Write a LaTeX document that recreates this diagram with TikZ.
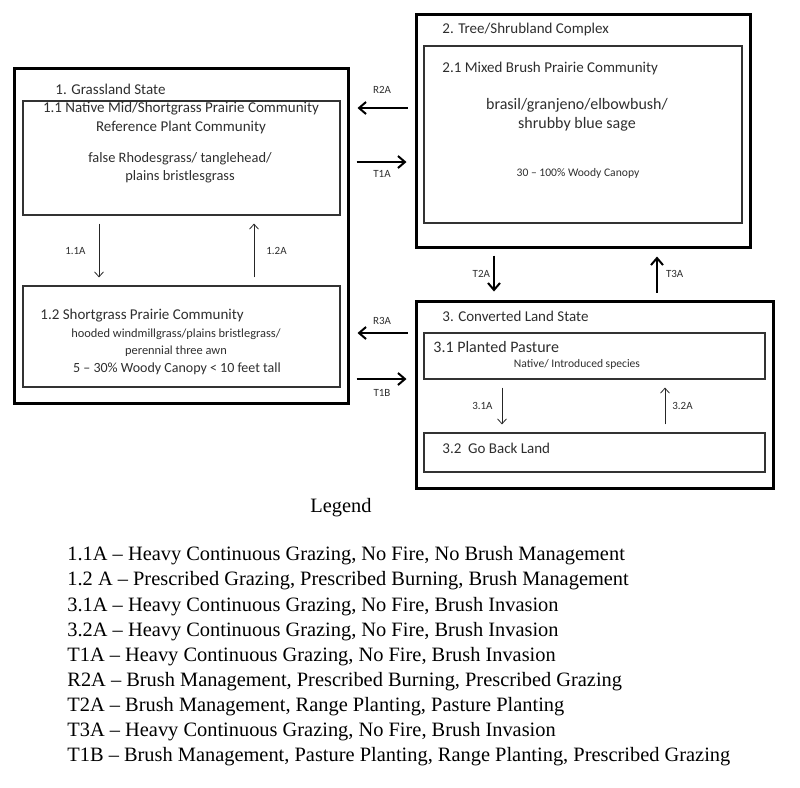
\documentclass[tikz,border=0pt]{standalone}
\usepackage{fontspec}
\setmainfont{Liberation Serif}
\newfontfamily\boxfont{Carlito}
\usepackage{tikz}
\usetikzlibrary{arrows.meta,fit}
\definecolor{boxtext}{HTML}{2E2E2E}
\tikzstyle{statebox}=[draw=black,line width=1.5pt,inner sep=0pt]
\tikzstyle{commbox}=[draw=black!80,line width=0.6pt,inner sep=0pt]
\tikzstyle{boxlabel}=[inner sep=0pt,text=boxtext,font=\boxfont\fontsize{7.5}{9.5}\selectfont]
\tikzstyle{smalllabel}=[inner sep=0pt,text=boxtext,font=\boxfont\fontsize{6.2}{8.5}\selectfont]
\tikzstyle{arrowlabel}=[inner sep=0pt,text=boxtext,font=\boxfont\fontsize{5.5}{6}\selectfont]
\tikzstyle{bigarrow}=[line width=1pt,-{Straight Barb[length=3.5pt,width=6pt]},shorten <=3.5pt,shorten >=4pt]
\tikzstyle{thinarrow}=[line width=0.4pt,draw=black!85,-{Straight Barb[length=2.5pt,width=4.5pt]},shorten <=4pt,shorten >=4pt]
\tikzstyle{legendtext}=[inner sep=0pt,anchor=west,font=\fontsize{10.2}{12}\selectfont]

\begin{document}
\begin{tikzpicture}[x=0.5pt,y=-0.5pt]
  \useasboundingbox (0,0) rectangle (800,788);

  % states and communities
  \node[statebox,fit={(14,68) (348,403)}] (state1) {};
  \node[commbox,fit={(23,101) (340,215)}] (comm11) {};
  \node[commbox,fit={(23,286) (340,387)}] (comm12) {};
  \node[statebox,fit={(416,14) (750,247)}] (state2) {};
  \node[commbox,fit={(424,46) (742,223)}] (comm21) {};
  \node[statebox,fit={(416,301) (773,488)}] (state3) {};
  \node[commbox,fit={(424,333) (765,379)}] (comm31) {};
  \node[commbox,fit={(424,433) (765,472)}] (comm32) {};

  % texts of state 1
  \node[boxlabel,anchor=west] (t1) at (55,89) {1. Grassland State};
  \node[boxlabel,align=center] (t11) at (181,118) {1.1 Native Mid/Shortgrass Prairie Community\\Reference Plant Community};
  \node[boxlabel,align=center,font=\boxfont\fontsize{7.2}{9}\selectfont] (s11) at (180,168) {false Rhodesgrass/ tanglehead/\\plains bristlesgrass};
  \node[boxlabel,anchor=west] (t12) at (40,316) {1.2 Shortgrass Prairie Community};
  \node[smalllabel,align=center] (s12) at (176,343) {hooded windmillgrass/plains bristlegrass/\\perennial three awn};
  \node[boxlabel,font=\boxfont\fontsize{7}{9}\selectfont] (c12) at (177,369) {5 – 30\% Woody Canopy {\textless} 10 feet tall};

  % texts of state 2
  \node[boxlabel,anchor=west] (t2) at (442,29) {2. Tree/Shrubland Complex};
  \node[boxlabel,anchor=west] (t21) at (442,68) {2.1 Mixed Brush Prairie Community};
  \node[boxlabel,align=center,font=\boxfont\fontsize{8}{9.5}\selectfont] (s21) at (577,115) {brasil/granjeno/elbowbush/\\shrubby blue sage};
  \node[smalllabel,font=\boxfont\fontsize{5.8}{7}\selectfont] (c21) at (578,173) {30 – 100\% Woody Canopy};

  % texts of state 3
  \node[boxlabel,anchor=west] (t3) at (442,316) {3. Converted Land State};
  \node[boxlabel,anchor=west,font=\boxfont\fontsize{8}{9.5}\selectfont] (t31) at (433,347) {3.1 Planted Pasture};
  \node[smalllabel,font=\boxfont\fontsize{5.8}{7}\selectfont] (s31) at (577,364) {Native/ Introduced species};
  \node[boxlabel,anchor=west] (t32) at (442,448) {3.2~ Go Back Land};

  % transitions between states
  \draw[bigarrow] (state2.west |- 0,108) -- node[arrowlabel,above=7pt] (lR2A) {R2A} (state1.east |- 0,108);
  \draw[bigarrow] (state1.east |- 0,162) -- node[arrowlabel,below=3.5pt] (lT1A) {T1A} (state2.west |- 0,162);
  \draw[bigarrow] (state3.west |- 0,333) -- node[arrowlabel,above=3.5pt] (lR3A) {R3A} (state1.east |- 0,333);
  \draw[bigarrow] (state1.east |- 0,379) -- node[arrowlabel,below=4.5pt] (lT1B) {T1B} (state3.west |- 0,379);
  \draw[bigarrow] (state2.south -| 494,0) -- node[arrowlabel,left=1.5pt] (lT2A) {T2A} (state3.north -| 494,0);
  \draw[bigarrow] (state3.north -| 657,0) -- node[arrowlabel,right=4pt] (lT3A) {T3A} (state2.south -| 657,0);

  % pathways within states
  \draw[thinarrow] (comm11.south -| 99,0) -- node[arrowlabel,left=6.5pt] (l11A) {1.1A} (comm12.north -| 99,0);
  \draw[thinarrow] (comm12.north -| 254,0) -- node[arrowlabel,right=6pt] (l12A) {1.2A} (comm11.south -| 254,0);
  \draw[thinarrow] (comm31.south -| 502,0) -- node[arrowlabel,left=4.5pt] (l31A) {3.1A} (comm32.north -| 502,0);
  \draw[thinarrow] (comm32.north -| 665,0) -- node[arrowlabel,right=3.5pt] (l32A) {3.2A} (comm31.south -| 665,0);

  % legend
  \node[inner sep=0pt,font=\fontsize{10.2}{12}\selectfont] (legend) at (341,508) {Legend};
  \foreach \txt [count=\i] in {{1.1A – Heavy Continuous Grazing, No Fire, No Brush Management},
      {1.2 A – Prescribed Grazing, Prescribed Burning, Brush Management},
      {3.1A – Heavy Continuous Grazing, No Fire, Brush Invasion},
      {3.2A – Heavy Continuous Grazing, No Fire, Brush Invasion},
      {T1A – Heavy Continuous Grazing, No Fire, Brush Invasion},
      {R2A – Brush Management, Prescribed Burning, Prescribed Grazing},
      {T2A – Brush Management, Range Planting, Pasture Planting},
      {T3A – Heavy Continuous Grazing, No Fire, Brush Invasion},
      {T1B – Brush Management, Pasture Planting, Range Planting, Prescribed Grazing}}
    \node[legendtext] (leg\i) at (67,{556+25.1*(\i-1)}) {\txt};
\end{tikzpicture}
\end{document}
